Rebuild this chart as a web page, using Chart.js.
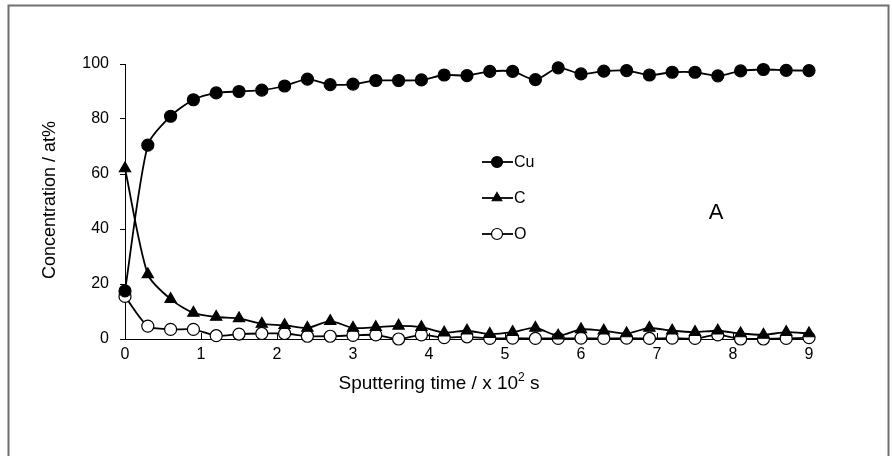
<!DOCTYPE html>
<html>
<head>
<meta charset="utf-8">
<script src="https://cdn.jsdelivr.net/npm/chart.js@4"></script>
<style>
  html, body { margin: 0; padding: 0; background: #fff; }
  canvas { display: block; }
</style>
</head>
<body>
<canvas id="depthChart" width="892" height="456"></canvas>
<script>
/* XPS depth profile: Cu, C, O vs sputtering time */

const FONT = '"Liberation Sans", Arial, sans-serif';

const TIMES = [0, 0.3, 0.6, 0.9, 1.2, 1.5, 1.8, 2.1, 2.4, 2.7, 3.0, 3.3, 3.6, 3.9, 4.2, 4.5,
  4.8, 5.1, 5.4, 5.7, 6.0, 6.3, 6.6, 6.9, 7.2, 7.5, 7.8, 8.1, 8.4, 8.7, 9.0];

const CU = [17.5, 70.5, 81, 87, 89.5, 90, 90.5, 92, 94.5, 92.5, 92.7, 94, 94, 94.2, 96, 95.8,
  97.3, 97.3, 94.3, 98.6, 96.4, 97.4, 97.6, 96, 97, 97, 95.7, 97.5, 98, 97.7, 97.6];

const C = [62, 23.5, 14.5, 9.5, 8, 7.5, 5.5, 5, 4, 6.5, 4, 4.3, 4.8, 4.3, 2.3, 3,
  1.8, 2.5, 4, 1.2, 3.5, 3, 2, 4, 3, 2.5, 3, 2, 1.5, 2.5, 2];

const O = [15.5, 4.7, 3.5, 3.5, 1.2, 1.8, 2, 2, 1, 1, 1.3, 1.5, 0, 1.5, 0.5, 0.8,
  0.2, 0.3, 0.2, 0.2, 0.3, 0.2, 0.3, 0.2, 0.3, 0.2, 1.5, 0, 0, 0.2, 0.5];

const X_TICKS = [0, 1, 2, 3, 4, 5, 6, 7, 8, 9];

const toPoints = arr => arr.map((v, i) => ({ x: TIMES[i], y: v }));

function series(label, data, style, fill) {
  return {
    label,
    data: toPoints(data),
    borderColor: '#000',
    borderWidth: 1.8,
    tension: 0.25,
    clip: false,
    pointStyle: style,
    pointRadius: style === 'triangle' ? 6.5 : 6,
    pointBackgroundColor: fill,
    pointBorderColor: '#000',
    pointBorderWidth: 1.2,
  };
}

// frame, inside x ticks, legend, panel letter, axis titles
const decorations = {
  id: 'decorations',
  beforeDatasetsDraw(chart) {
    const { ctx, scales: { x, y } } = chart;
    ctx.save();
    ctx.strokeStyle = '#000';
    ctx.lineWidth = 1;
    X_TICKS.slice(1).forEach(t => {
      const px = Math.round(x.getPixelForValue(t)) + 0.5;
      ctx.beginPath();
      ctx.moveTo(px, y.bottom);
      ctx.lineTo(px, y.bottom - 6);
      ctx.stroke();
    });
    ctx.restore();
  },
  afterDraw(chart) {
    const { ctx } = chart;
    ctx.save();

    ctx.strokeStyle = '#707070';
    ctx.lineWidth = 2;
    ctx.strokeRect(8.5, 5.5, 880, 460);

    // legend
    const rows = [162, 198, 234];
    chart.data.datasets.forEach((ds, i) => {
      const ly = rows[i];
      ctx.strokeStyle = '#000';
      ctx.lineWidth = 1.8;
      ctx.beginPath();
      ctx.moveTo(482, ly);
      ctx.lineTo(513, ly);
      ctx.stroke();
      ctx.fillStyle = ds.pointBackgroundColor;
      ctx.lineWidth = 1.2;
      Chart.helpers.drawPoint(ctx, { pointStyle: ds.pointStyle, radius: 5.5, rotation: 0, borderWidth: 1.2 }, 497, ly);
      ctx.fillStyle = '#000';
      ctx.font = '16px ' + FONT;
      ctx.textAlign = 'left';
      ctx.textBaseline = 'middle';
      ctx.fillText(ds.label, 514, ly + 1);
    });

    ctx.font = '22px ' + FONT;
    ctx.textAlign = 'center';
    ctx.fillText('A', 716, 213);

    // x title with superscript
    ctx.textBaseline = 'middle';
    const pre = 'Sputtering time / x 10', sup = '2', post = ' s';
    ctx.font = '19px ' + FONT;
    const wPre = ctx.measureText(pre).width;
    const wPost = ctx.measureText(post).width;
    ctx.font = '12px ' + FONT;
    const wSup = ctx.measureText(sup).width;
    const sx = 439 - (wPre + wSup + wPost) / 2;
    ctx.textAlign = 'left';
    ctx.font = '19px ' + FONT;
    ctx.fillText(pre, sx, 384);
    ctx.font = '12px ' + FONT;
    ctx.fillText(sup, sx + wPre, 378);
    ctx.font = '19px ' + FONT;
    ctx.fillText(post, sx + wPre + wSup, 384);

    ctx.font = '18px ' + FONT;
    ctx.translate(50, 200);
    ctx.rotate(-Math.PI / 2);
    ctx.textAlign = 'center';
    ctx.fillText('Concentration / at%', 0, 0);
    ctx.restore();
  },
};

new Chart(document.getElementById('depthChart'), {
  type: 'line',
  data: {
    datasets: [
      series('Cu', CU, 'circle', '#000'),
      series('C', C, 'triangle', '#000'),
      series('O', O, 'circle', '#fff'),
    ],
  },
  options: {
    responsive: false,
    animation: false,
    layout: { padding: { top: 64, right: 83, left: 0, bottom: 0 } },
    plugins: { legend: { display: false }, tooltip: { enabled: false } },
    scales: {
      x: {
        type: 'linear',
        min: 0,
        max: 9,
        afterFit: s => { s.height = 117; },
        afterBuildTicks: s => { s.ticks = X_TICKS.map(v => ({ value: v })); },
        grid: { display: false, drawTicks: false },
        border: { display: true, color: '#000', width: 1 },
        ticks: { color: '#000', font: { family: FONT, size: 16 }, padding: 6 },
      },
      y: {
        min: 0,
        max: 100,
        afterFit: s => { s.width = 125; },
        grid: { drawOnChartArea: false, drawTicks: true, tickLength: 5, color: '#000' },
        border: { display: true, color: '#000', width: 1 },
        ticks: { stepSize: 20, color: '#000', font: { family: FONT, size: 16 }, padding: 11 },
      },
    },
  },
  plugins: [decorations],
});
</script>
</body>
</html>
